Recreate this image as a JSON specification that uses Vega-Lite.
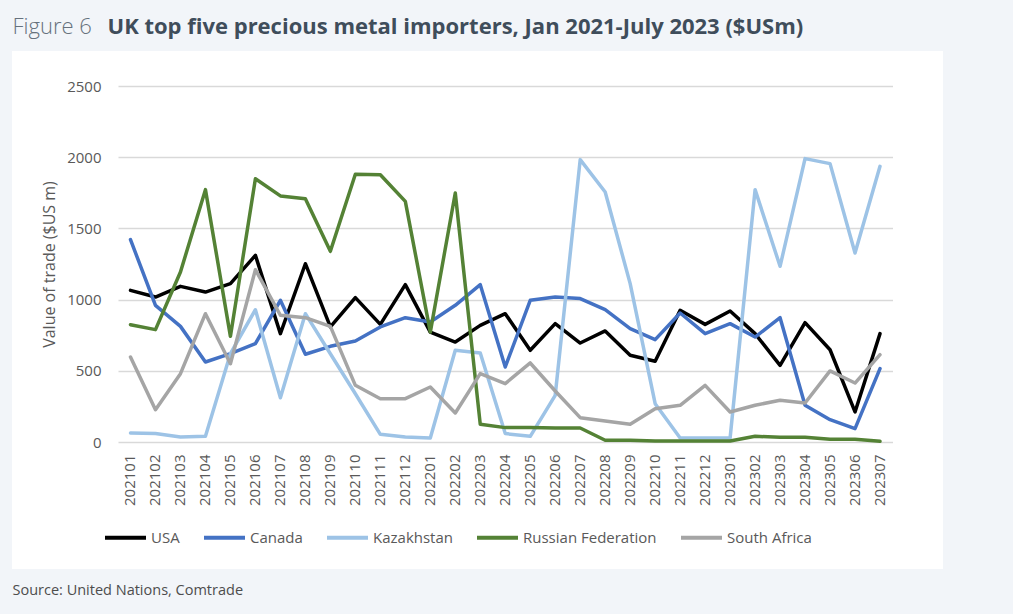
{
  "$schema": "https://vega.github.io/schema/vega-lite/v6.json",
  "width": 931,
  "height": 518,
  "autosize": {"type": "none"},
  "padding": {"left": 12, "top": 51, "right": 70, "bottom": 45},
  "background": "#f2f5f9",
  "config": {
    "view": {"fill": "white", "stroke": null},
    "axis": {"labelFont": "Open Sans", "titleFont": "Open Sans"},
    "legend": {"labelFont": "Open Sans"}
  },
  "data": {
    "values": [
      {"m":"202101","c":"USA","v":1065},{"m":"202102","c":"USA","v":1018},{"m":"202103","c":"USA","v":1093},{"m":"202104","c":"USA","v":1053},{"m":"202105","c":"USA","v":1112},{"m":"202106","c":"USA","v":1311},{"m":"202107","c":"USA","v":761},{"m":"202108","c":"USA","v":1252},{"m":"202109","c":"USA","v":808},{"m":"202110","c":"USA","v":1014},{"m":"202111","c":"USA","v":826},{"m":"202112","c":"USA","v":1105},
      {"m":"202201","c":"USA","v":772},{"m":"202202","c":"USA","v":702},{"m":"202203","c":"USA","v":819},{"m":"202204","c":"USA","v":901},{"m":"202205","c":"USA","v":644},{"m":"202206","c":"USA","v":831},{"m":"202207","c":"USA","v":695},{"m":"202208","c":"USA","v":780},{"m":"202209","c":"USA","v":609},{"m":"202210","c":"USA","v":567},{"m":"202211","c":"USA","v":925},{"m":"202212","c":"USA","v":826},
      {"m":"202301","c":"USA","v":920},{"m":"202302","c":"USA","v":761},{"m":"202303","c":"USA","v":538},{"m":"202304","c":"USA","v":838},{"m":"202305","c":"USA","v":648},{"m":"202306","c":"USA","v":211},{"m":"202307","c":"USA","v":761},
      {"m":"202101","c":"Canada","v":1421},{"m":"202102","c":"Canada","v":960},{"m":"202103","c":"Canada","v":812},{"m":"202104","c":"Canada","v":562},{"m":"202105","c":"Canada","v":620},{"m":"202106","c":"Canada","v":691},{"m":"202107","c":"Canada","v":995},{"m":"202108","c":"Canada","v":616},{"m":"202109","c":"Canada","v":672},{"m":"202110","c":"Canada","v":709},{"m":"202111","c":"Canada","v":808},{"m":"202112","c":"Canada","v":873},
      {"m":"202201","c":"Canada","v":843},{"m":"202202","c":"Canada","v":960},{"m":"202203","c":"Canada","v":1105},{"m":"202204","c":"Canada","v":527},{"m":"202205","c":"Canada","v":995},{"m":"202206","c":"Canada","v":1018},{"m":"202207","c":"Canada","v":1007},{"m":"202208","c":"Canada","v":929},{"m":"202209","c":"Canada","v":796},{"m":"202210","c":"Canada","v":719},{"m":"202211","c":"Canada","v":906},{"m":"202212","c":"Canada","v":761},
      {"m":"202301","c":"Canada","v":831},{"m":"202302","c":"Canada","v":737},{"m":"202303","c":"Canada","v":873},{"m":"202304","c":"Canada","v":258},{"m":"202305","c":"Canada","v":157},{"m":"202306","c":"Canada","v":94},{"m":"202307","c":"Canada","v":515},
      {"m":"202101","c":"Kazakhstan","v":63},{"m":"202102","c":"Kazakhstan","v":59},{"m":"202103","c":"Kazakhstan","v":35},{"m":"202104","c":"Kazakhstan","v":40},{"m":"202105","c":"Kazakhstan","v":620},{"m":"202106","c":"Kazakhstan","v":929},{"m":"202107","c":"Kazakhstan","v":311},{"m":"202108","c":"Kazakhstan","v":901},{"m":"202109","c":"Kazakhstan","v":620},{"m":"202110","c":"Kazakhstan","v":339},{"m":"202111","c":"Kazakhstan","v":54},{"m":"202112","c":"Kazakhstan","v":35},
      {"m":"202201","c":"Kazakhstan","v":28},{"m":"202202","c":"Kazakhstan","v":644},{"m":"202203","c":"Kazakhstan","v":625},{"m":"202204","c":"Kazakhstan","v":59},{"m":"202205","c":"Kazakhstan","v":40},{"m":"202206","c":"Kazakhstan","v":328},{"m":"202207","c":"Kazakhstan","v":1983},{"m":"202208","c":"Kazakhstan","v":1756},{"m":"202209","c":"Kazakhstan","v":1112},{"m":"202210","c":"Kazakhstan","v":269},{"m":"202211","c":"Kazakhstan","v":28},{"m":"202212","c":"Kazakhstan","v":28},
      {"m":"202301","c":"Kazakhstan","v":28},{"m":"202302","c":"Kazakhstan","v":1772},{"m":"202303","c":"Kazakhstan","v":1234},{"m":"202304","c":"Kazakhstan","v":1990},{"m":"202305","c":"Kazakhstan","v":1955},{"m":"202306","c":"Kazakhstan","v":1327},{"m":"202307","c":"Kazakhstan","v":1936},
      {"m":"202101","c":"Russian Federation","v":824},{"m":"202102","c":"Russian Federation","v":789},{"m":"202103","c":"Russian Federation","v":1194},{"m":"202104","c":"Russian Federation","v":1772},{"m":"202105","c":"Russian Federation","v":742},{"m":"202106","c":"Russian Federation","v":1849},{"m":"202107","c":"Russian Federation","v":1728},{"m":"202108","c":"Russian Federation","v":1709},{"m":"202109","c":"Russian Federation","v":1339},{"m":"202110","c":"Russian Federation","v":1880},{"m":"202111","c":"Russian Federation","v":1877},{"m":"202112","c":"Russian Federation","v":1690},
      {"m":"202201","c":"Russian Federation","v":772},{"m":"202202","c":"Russian Federation","v":1749},{"m":"202203","c":"Russian Federation","v":124},{"m":"202204","c":"Russian Federation","v":101},{"m":"202205","c":"Russian Federation","v":101},{"m":"202206","c":"Russian Federation","v":98},{"m":"202207","c":"Russian Federation","v":98},{"m":"202208","c":"Russian Federation","v":12},{"m":"202209","c":"Russian Federation","v":12},{"m":"202210","c":"Russian Federation","v":7},{"m":"202211","c":"Russian Federation","v":7},{"m":"202212","c":"Russian Federation","v":7},
      {"m":"202301","c":"Russian Federation","v":7},{"m":"202302","c":"Russian Federation","v":40},{"m":"202303","c":"Russian Federation","v":33},{"m":"202304","c":"Russian Federation","v":33},{"m":"202305","c":"Russian Federation","v":19},{"m":"202306","c":"Russian Federation","v":19},{"m":"202307","c":"Russian Federation","v":5},
      {"m":"202101","c":"South Africa","v":597},{"m":"202102","c":"South Africa","v":227},{"m":"202103","c":"South Africa","v":480},{"m":"202104","c":"South Africa","v":901},{"m":"202105","c":"South Africa","v":550},{"m":"202106","c":"South Africa","v":1210},{"m":"202107","c":"South Africa","v":890},{"m":"202108","c":"South Africa","v":873},{"m":"202109","c":"South Africa","v":812},{"m":"202110","c":"South Africa","v":398},{"m":"202111","c":"South Africa","v":304},{"m":"202112","c":"South Africa","v":304},
      {"m":"202201","c":"South Africa","v":386},{"m":"202202","c":"South Africa","v":204},{"m":"202203","c":"South Africa","v":480},{"m":"202204","c":"South Africa","v":410},{"m":"202205","c":"South Africa","v":555},{"m":"202206","c":"South Africa","v":358},{"m":"202207","c":"South Africa","v":171},{"m":"202208","c":"South Africa","v":147},{"m":"202209","c":"South Africa","v":124},{"m":"202210","c":"South Africa","v":234},{"m":"202211","c":"South Africa","v":258},{"m":"202212","c":"South Africa","v":398},
      {"m":"202301","c":"South Africa","v":211},{"m":"202302","c":"South Africa","v":258},{"m":"202303","c":"South Africa","v":293},{"m":"202304","c":"South Africa","v":274},{"m":"202305","c":"South Africa","v":499},{"m":"202306","c":"South Africa","v":414},{"m":"202307","c":"South Africa","v":613}
    ]
  },
  "resolve": {"axis": {"x": "independent", "y": "independent"}},
  "layer": [
    {
      "transform": [{"filter": {"field": "c", "oneOf": ["USA", "Canada", "Kazakhstan", "Russian Federation"]}}],
      "mark": {"type": "line", "strokeWidth": 3.5, "strokeJoin": "round", "strokeCap": "round"},
      "encoding": {
        "x": {
          "field": "m",
          "type": "ordinal",
          "scale": {"type": "band", "range": [106, 880.5], "paddingInner": 0, "paddingOuter": 0},
          "axis": {
            "orient": "bottom",
            "offset": -127,
            "labelAngle": -90,
            "labelPadding": 12,
            "labelFontSize": 15,
            "labelColor": "#595959",
            "ticks": false,
            "domain": false,
            "grid": false,
            "title": "Source: United Nations, Comtrade",
            "titleFontSize": 14.5,
            "titleFontWeight": "normal",
            "titleColor": "#4d4d4d",
            "titleX": 0,
            "titleY": 152,
            "titleAlign": "left",
            "titleAnchor": "start",
            "titleBaseline": "alphabetic"
          }
        },
        "y": {
          "field": "v",
          "type": "quantitative",
          "scale": {"domain": [0, 2500], "range": [391, 35], "nice": false},
          "axis": {
            "orient": "left",
            "offset": -106,
            "values": [0, 500, 1000, 1500, 2000, 2500],
            "format": "d",
            "grid": true,
            "gridColor": "#d9d9d9",
            "gridWidth": 1.3,
            "domain": false,
            "ticks": false,
            "labelPadding": 17,
            "labelFontSize": 15,
            "labelColor": "#595959",
            "title": "Value of trade ($US m)",
            "titleFontSize": 16,
            "titleFontWeight": "normal",
            "titleColor": "#595959",
            "titlePadding": 9
          }
        },
        "color": {
          "field": "c",
          "type": "nominal",
          "scale": {
            "domain": ["USA", "Canada", "Kazakhstan", "Russian Federation", "South Africa"],
            "range": ["#000000", "#4472c4", "#9dc3e6", "#548235", "#a5a5a5"]
          },
          "legend": {
            "title": null,
            "orient": "none",
            "legendX": 91,
            "legendY": 464,
            "direction": "horizontal",
            "symbolType": "stroke",
            "symbolSize": 1681,
            "symbolStrokeWidth": 4,
            "labelFontSize": 15,
            "labelColor": "#595959",
            "labelOffset": 3,
            "columnPadding": 16
          }
        }
      }
    },
    {
      "transform": [{"filter": {"field": "c", "equal": "South Africa"}}],
      "mark": {"type": "line", "strokeWidth": 3.5, "strokeJoin": "round", "strokeCap": "round"},
      "encoding": {
        "x": {
          "field": "m",
          "type": "ordinal",
          "axis": {
            "orient": "top",
            "labels": false,
            "ticks": false,
            "domain": false,
            "grid": false,
            "title": "UK top five precious metal importers, Jan 2021-July 2023 ($USm)",
            "titleFont": "Open Sans",
            "titleFontSize": 22,
            "titleFontWeight": "bold",
            "titleColor": "#3f4d5b",
            "titleLimit": 2000,
            "titleX": 95,
            "titleY": -18,
            "titleAlign": "left",
            "titleAnchor": "start",
            "titleBaseline": "alphabetic"
          }
        },
        "y": {
          "field": "v",
          "type": "quantitative",
          "axis": {
            "orient": "right",
            "labels": false,
            "ticks": false,
            "domain": false,
            "grid": false,
            "title": "Figure 6",
            "titleFont": "Open Sans",
            "titleFontSize": 22,
            "titleFontWeight": 300,
            "titleColor": "#66717d",
            "titleAngle": 0,
            "titleX": -931,
            "titleY": -18,
            "titleAlign": "left",
            "titleAnchor": "start",
            "titleBaseline": "alphabetic"
          }
        },
        "color": {
          "field": "c",
          "type": "nominal",
          "scale": {
            "domain": ["USA", "Canada", "Kazakhstan", "Russian Federation", "South Africa"],
            "range": ["#000000", "#4472c4", "#9dc3e6", "#548235", "#a5a5a5"]
          },
          "legend": {
            "title": null,
            "orient": "none",
            "legendX": 91,
            "legendY": 464,
            "direction": "horizontal",
            "symbolType": "stroke",
            "symbolSize": 1681,
            "symbolStrokeWidth": 4,
            "labelFontSize": 15,
            "labelColor": "#595959",
            "labelOffset": 3,
            "columnPadding": 16
          }
        }
      }
    }
  ]
}
